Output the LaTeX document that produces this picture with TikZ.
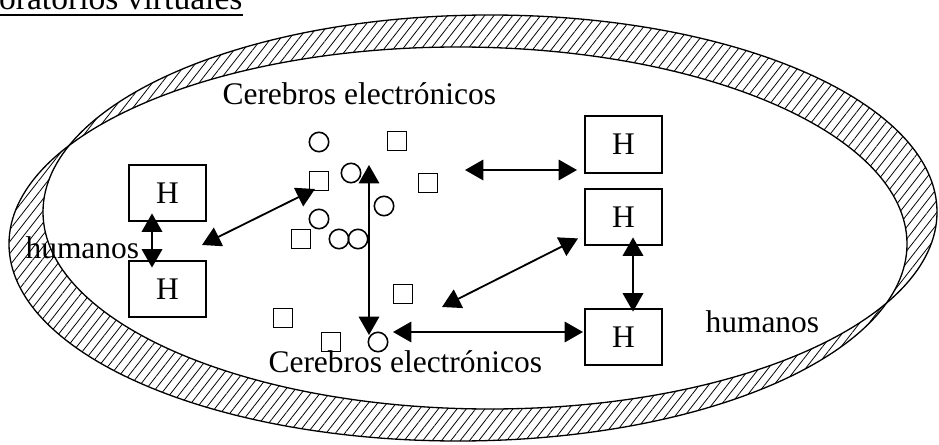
\documentclass[tikz,border=0pt]{standalone}
\usepackage{fontspec}
\setmainfont{Liberation Serif}
\usepackage{tikz}
\usetikzlibrary{arrows.meta}
\usetikzlibrary{patterns.meta}
\usetikzlibrary{calc}

\begin{document}
\begin{tikzpicture}[
        x=0.0134cm, y=-0.0134cm,
        font=\fontsize{12}{14}\selectfont,
        txt/.style={inner sep=0pt},
        hbox/.style={draw, line width=0.8pt, fill=white, minimum width=1.03cm, minimum height=0.76cm, inner sep=0pt},
        brain/.style={draw, circle, line width=0.6pt, minimum size=0.26cm, inner sep=0pt},
        chip/.style={draw, line width=0.6pt, minimum size=0.25cm, inner sep=0pt},
        arrow/.style={{Triangle[length=7pt,width=7.8pt]}-{Triangle[length=7pt,width=7.8pt]}, line width=0.7pt},
        ring/.style={line width=0.5pt}
      ]
        \useasboundingbox (0,0) rectangle (939,445);
        \fill[pattern={Lines[angle=52,distance=2.8pt,line width=0.3pt]}, even odd rule]
          (490,212) ellipse [x radius=447, y radius=197]
          (458,244) ellipse [x radius=449, y radius=197];
        \draw[ring] (490,212) ellipse [x radius=447, y radius=197];
        \draw[ring] (458,244) ellipse [x radius=449, y radius=197];

        \node[txt, anchor=base east, font=\fontsize{12.8}{15}\selectfont] (title) at (243,10) {Laboratorios virtuales};
        \draw[line width=0.8pt] ($(title.base west)+(0,5)$) -- ($(title.base east)+(0,5)$);
        \node[txt, anchor=base west] (cerebrosA) at (222,105) {Cerebros electrónicos};
        \node[txt, anchor=base west] (cerebrosB) at (268,372) {Cerebros electrónicos};
        \node[txt, anchor=base west] (humanosA) at (25,258) {humanos};
        \node[txt, anchor=base west] (humanosB) at (705,332) {humanos};

        \node[hbox] (h1) at (167.5,193) {H};
        \node[hbox] (h2) at (167.5,289) {H};
        \node[hbox] (h3) at (623.5,144.5) {H};
        \node[hbox] (h4) at (623.5,217) {H};
        \node[hbox] (h5) at (623.5,337) {H};

        \foreach \p [count=\i] in {(319,142),(351,173),(384,206),(319,219),(339,239),(358,239),(378,342)}
          \node[brain] (b\i) at \p {};
        \foreach \p [count=\i] in {(397,141),(319,181),(428,183),(301,239),(403,294),(283,318),(331,342)}
          \node[chip] (s\i) at \p {};

        \coordinate (a1) at (465,170);
        \coordinate (a2) at (442,307);
        \coordinate (a3) at (393,332);
        \coordinate (a4) at (202,245);
        \coordinate (a5) at (315,189);
        \coordinate (a6) at (369,165);
        \coordinate (a7) at (369,335);

        \draw[arrow] ($(h1.south)+(-15.5,-9)$) -- ($(h2.north)+(-15.5,8)$);
        \draw[arrow] ($(h4.south)+(9.5,-9)$) -- ($(h5.north)+(9.5,4)$);
        \draw[arrow] (a1) -- ($(a1 -| h3.west)+(-7,0)$);
        \draw[arrow] (a2) -- ($(h4.south west)+(-6,-8)$);
        \draw[arrow] (a3) -- ($(a3 -| h5.west)+(-1,0)$);
        \draw[arrow] (a4) -- (a5);
        \draw[arrow] (a6) -- (a7);
      \end{tikzpicture}
\end{document}
